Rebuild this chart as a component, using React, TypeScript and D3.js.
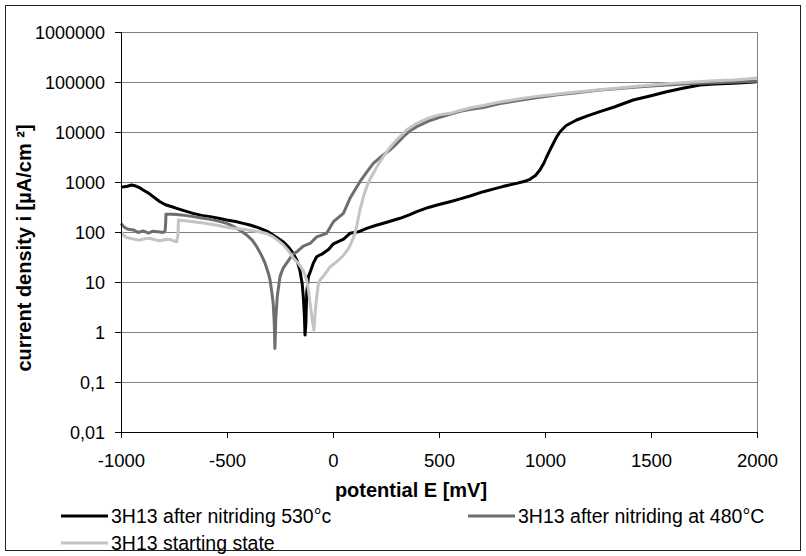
import * as d3 from "d3";

// potential E [mV] / current density i [µA/cm²]
const E_530 = [-1000, -985, -970, -950, -930, -910, -896, -870, -840, -816, -790, -760, -737, -700, -660, -620, -580, -540, -501, -460, -424, -392, -360, -344, -310, -283, -260, -236, -210, -189, -170, -156, -145, -140, -135, -132, -128, -124, -116, -105, -93, -77, -60, -46, -20, 2, 17, 50, 80, 120, 159, 200, 250, 316, 360, 395, 450, 500, 552, 600, 650, 709, 760, 800, 866, 900, 929, 955, 976, 995, 1008, 1025, 1039, 1055, 1071, 1100, 1149, 1200, 1259, 1330, 1416, 1500, 1574, 1650, 1731, 1800, 1887, 1950, 2000];
const I_530 = [790, 800, 820, 870, 830, 760, 690, 600, 480, 403, 350, 320, 297, 265, 236, 215, 203, 188, 174, 162, 149, 138, 125, 118, 103, 87, 75, 64, 50, 38, 27, 17, 9, 5, 2.2, 0.87, 1.5, 6, 12.8, 17, 23.7, 32, 35, 37.5, 45, 58, 62, 72, 94, 101, 118, 135, 155, 188, 220, 255, 310, 355, 404, 460, 530, 640, 730, 810, 940, 1020, 1130, 1350, 1740, 2400, 3200, 4500, 5900, 8000, 10100, 13500, 17400, 21000, 25500, 32000, 43600, 53000, 64000, 75000, 87000, 91000, 94000, 98000, 101000];

const E_480 = [-1000, -985, -970, -942, -920, -895, -870, -850, -816, -800, -792, -789, -788, -760, -737, -700, -659, -620, -580, -540, -501, -480, -454, -430, -407, -380, -360, -340, -321, -305, -297, -288, -282, -277, -274, -270, -263, -250, -235, -218, -187, -171, -140, -108, -77, -30, 2, 49, 80, 127, 160, 190, 230, 269, 300, 332, 360, 395, 450, 500, 552, 600, 650, 709, 788, 866, 950, 1050, 1150, 1259, 1350, 1450, 1574, 1700, 1800, 1887, 2000];
const I_480 = [149, 125, 115, 110, 98, 105, 95, 104, 100, 98, 105, 160, 226, 226, 224, 215, 203, 190, 179, 165, 149, 136, 118, 102, 87, 68, 51, 36, 24, 15, 11, 6, 3.7, 1.5, 0.47, 1.8, 5.1, 12.8, 19, 24, 37, 40, 52, 59, 80, 94, 161, 236, 471, 1013, 1600, 2360, 3300, 4370, 5800, 8060, 10300, 12800, 16500, 19500, 22500, 26000, 28500, 31000, 37000, 42000, 48000, 55000, 61000, 69000, 74000, 80000, 87000, 93000, 97000, 100000, 103000];

const E_START = [-1000, -990, -975, -958, -940, -925, -910, -890, -863, -840, -816, -790, -769, -750, -737, -731, -729, -700, -659, -620, -580, -540, -501, -460, -423, -380, -344, -310, -282, -260, -234, -210, -187, -165, -148, -135, -124, -115, -108, -98, -90, -84, -77, -70, -61, -40, -14, 20, 49, 75, 96, 110, 127, 143, 159, 175, 190, 212, 237, 270, 300, 347, 395, 450, 500, 552, 600, 650, 709, 788, 866, 950, 1050, 1150, 1259, 1350, 1450, 1574, 1700, 1800, 1887, 1950, 2000];
const I_START = [100, 88, 78, 75, 72, 70, 69, 73, 75, 70, 67, 71, 71, 66, 64, 90, 174, 168, 161, 153, 145, 135, 124, 118, 113, 106, 100, 92, 80, 68, 55, 42, 30, 24, 19, 15, 11, 6.5, 3.7, 1.8, 1.1, 2.5, 5, 8.5, 11, 14, 20, 26, 34, 48, 75, 120, 275, 500, 805, 1150, 1490, 2200, 3200, 5000, 6900, 11000, 14900, 19000, 22000, 23600, 27000, 30500, 34000, 40000, 45000, 51000, 57000, 63000, 70000, 76000, 83000, 92000, 100000, 106000, 110000, 115000, 120000];

const SERIES = [
  { name: "3H13 after nitriding 530°c", e: E_530, i: I_530, color: "#000000" },
  { name: "3H13 after nitriding at 480°C", e: E_480, i: I_480, color: "#6e6e6e" },
  { name: "3H13 starting state", e: E_START, i: I_START, color: "#c4c4c4" },
];

const X_TICKS = [-1000, -500, 0, 500, 1000, 1500, 2000];
const Y_TICKS = [0.01, 0.1, 1, 10, 100, 1000, 10000, 100000, 1000000];
const Y_TICK_LABELS = ["0,01", "0,1", "1", "10", "100", "1000", "10000", "100000", "1000000"];

const W = 806, H = 556;
const PLOT = { left: 121, right: 757, top: 32, bottom: 432 };
const FONT = "'Liberation Sans', Arial, sans-serif";

export default function App() {
  const x = d3.scaleLinear().domain([-1000, 2000]).range([PLOT.left, PLOT.right]);
  const y = d3.scaleLog().domain([0.01, 1000000]).range([PLOT.bottom, PLOT.top]);

  const line = d3
    .line<[number, number]>()
    .x(d => x(d[0]))
    .y(d => y(d[1]));

  return (
    <svg width={W} height={H} style={{ position: "absolute", left: 0, top: 0, background: "#fff" }} fontFamily={FONT}>
      {/* outer chart border */}
      <rect x={5.5} y={5.5} width={795} height={545} fill="#fff" stroke="#222" strokeWidth={1} />

      {/* gridlines */}
      {Y_TICKS.map(t => (
        <line key={t} x1={PLOT.left} x2={PLOT.right} y1={Math.round(y(t)) + 0.5} y2={Math.round(y(t)) + 0.5} stroke="#808080" />
      ))}
      <line x1={PLOT.right + 0.5} x2={PLOT.right + 0.5} y1={PLOT.top} y2={PLOT.bottom} stroke="#808080" />

      {/* series */}
      {SERIES.map(s => (
        <path
          key={s.name}
          d={line(s.e.map((e, k) => [e, s.i[k]] as [number, number])) || ""}
          fill="none"
          stroke={s.color}
          strokeWidth={3}
          strokeLinejoin="round"
        />
      ))}

      {/* y axis */}
      <line x1={PLOT.left + 0.5} x2={PLOT.left + 0.5} y1={PLOT.top} y2={PLOT.bottom + 6} stroke="#000" />
      {Y_TICKS.map((t, k) => (
        <g key={t} transform={`translate(0,${Math.round(y(t)) + 0.5})`}>
          <line x1={PLOT.left - 6} x2={PLOT.left} stroke="#000" />
          <text x={105} dy="0.35em" textAnchor="end" fontSize={18} fill="#000">
            {Y_TICK_LABELS[k]}
          </text>
        </g>
      ))}

      {/* x axis */}
      <line x1={PLOT.left} x2={PLOT.right} y1={PLOT.bottom + 0.5} y2={PLOT.bottom + 0.5} stroke="#000" />
      {X_TICKS.map(t => (
        <g key={t} transform={`translate(${Math.round(x(t)) + 0.5},0)`}>
          <line y1={PLOT.bottom} y2={PLOT.bottom + 6} stroke="#000" />
          <text y={467} textAnchor="middle" fontSize={18.5} fill="#000">
            {t}
          </text>
        </g>
      ))}

      {/* axis titles */}
      <text x={411} y={497} textAnchor="middle" fontSize={20} fontWeight="bold">
        potential E [mV]
      </text>
      <text transform="translate(31,248) rotate(-90)" textAnchor="middle" fontSize={20} fontWeight="bold">
        current density i [µA/cm ²]
      </text>

      {/* legend */}
      {SERIES.map((s, k) => {
        const lx = k === 1 ? 468 : 61;
        const ly = k === 2 ? 543 : 516;
        return (
          <g key={s.name}>
            <line x1={lx} x2={lx + 47} y1={ly} y2={ly} stroke={s.color} strokeWidth={3} />
            <text x={lx + 50} y={ly} dy="0.35em" fontSize={19.5} fill="#000">
              {s.name}
            </text>
          </g>
        );
      })}
    </svg>
  );
}
